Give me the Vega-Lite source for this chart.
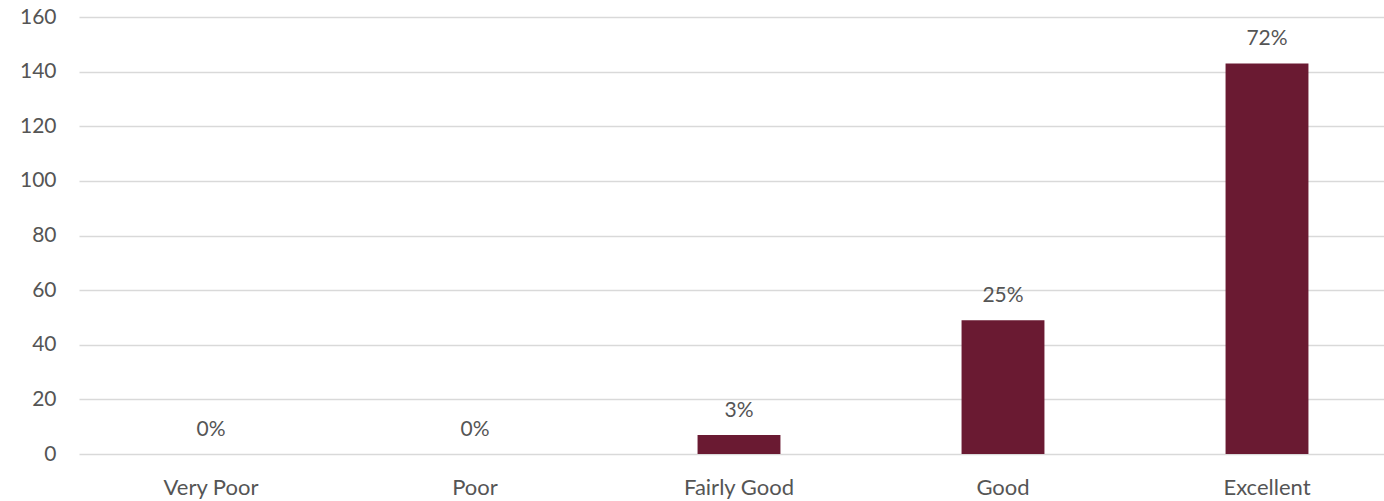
{
  "$schema": "https://vega.github.io/schema/vega-lite/v6.json",
  "width": 1320,
  "height": 437,
  "autosize": {"type": "none"},
  "padding": {"left": 79, "top": 17, "right": 0, "bottom": 47},
  "background": "white",
  "config": {
    "view": {"stroke": null},
    "font": "Lato",
    "axis": {"labelFont": "Lato", "labelColor": "#555555", "labelFontSize": 21, "domain": false, "ticks": false, "title": null}
  },
  "data": {
    "values": [
      {"rating": "Very Poor", "count": 0, "label": "0%"},
      {"rating": "Poor", "count": 0, "label": "0%"},
      {"rating": "Fairly Good", "count": 7, "label": "3%"},
      {"rating": "Good", "count": 49, "label": "25%"},
      {"rating": "Excellent", "count": 143, "label": "72%"}
    ]
  },
  "encoding": {
    "x": {
      "field": "rating",
      "type": "nominal",
      "sort": null,
      "scale": {"paddingInner": 0.686, "paddingOuter": 0.343},
      "axis": {"labelAngle": 0, "labelPadding": 23, "labelFontSize": 22, "grid": false}
    },
    "y": {
      "field": "count",
      "type": "quantitative",
      "scale": {"domain": [0, 160], "nice": false},
      "axis": {"values": [0, 20, 40, 60, 80, 100, 120, 140, 160], "grid": true, "gridColor": "#D9D9D9", "gridWidth": 1.3, "labelPadding": 23}
    }
  },
  "layer": [
    {"mark": {"type": "bar", "color": "#6A1A32"}},
    {
      "mark": {"type": "text", "baseline": "alphabetic", "dy": -18, "fontSize": 21, "color": "#555555"},
      "encoding": {"text": {"field": "label"}}
    }
  ]
}
